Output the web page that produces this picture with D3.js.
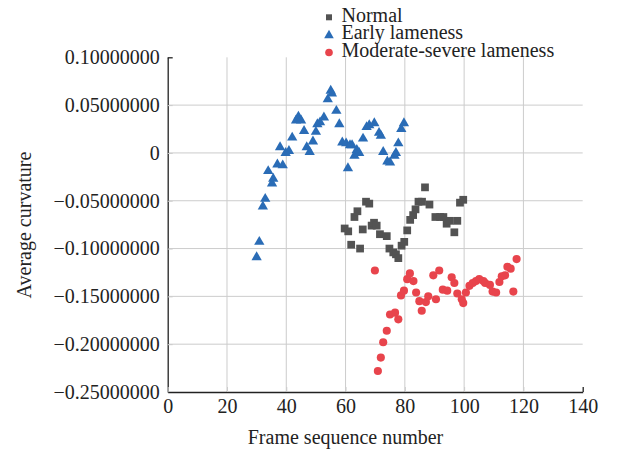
<!DOCTYPE html>
<html lang="en">
<head>
    <meta charset="UTF-8">
    <title>average curvature</title>
    <script src="https://cdn.jsdelivr.net/npm/d3@7"></script>
    <style>
        body{
            margin: 0;
            background: #fff;
        }
        text{
            font-family: "Times New Roman", "Liberation Serif", serif;
            fill: #222;
        }
    </style>
</head>
<body>
<svg width="618" height="450" id="chart"></svg>

<script>
    // frame sequence number / average curvature
    let normalX = [59.7, 60.9, 61.9, 63.0, 64.0, 64.9, 65.8, 66.9, 68.0, 68.8, 69.6, 70.5, 71.6, 73.9,
        74.8, 76.1, 77.0, 77.8, 78.9, 79.8, 80.8, 81.8, 82.8, 83.6, 84.6, 85.8, 86.8, 88.3, 90.3,
        91.9, 93.0, 94.1, 95.2, 96.7, 97.7, 98.6, 99.7]
    let normalY = [-0.079, -0.082, -0.096, -0.067, -0.061, -0.100, -0.080, -0.051, -0.053, -0.076,
        -0.073, -0.076, -0.085, -0.087, -0.100, -0.104, -0.106, -0.110, -0.097, -0.093, -0.081,
        -0.070, -0.065, -0.059, -0.051, -0.051, -0.036, -0.054, -0.067, -0.067, -0.067, -0.074,
        -0.071, -0.083, -0.071, -0.052, -0.049]

    let earlyX = [30.0, 30.9, 32.1, 32.9, 33.9, 35.2, 35.6, 37.0, 38.8, 37.9, 39.8, 40.9, 42.0, 43.3,
        44.1, 45.0, 46.0, 46.9, 47.9, 49.0, 50.0, 50.5, 51.4, 52.7, 54.0, 55.0, 55.4, 56.9, 57.9,
        58.9, 60.2, 60.8, 61.5, 62.2, 63.0, 63.8, 64.6, 65.9, 67.1, 68.0, 69.7, 71.3, 71.9, 72.7,
        74.1, 75.0, 76.5, 77.0, 77.8, 78.8, 79.7]
    let earlyY = [-0.109, -0.093, -0.056, -0.048, -0.019, -0.032, -0.027, -0.012, -0.013, 0.006,
        0.000, 0.002, 0.016, 0.034, 0.038, 0.034, 0.023, 0.006, 0.001, 0.012, 0.022, 0.030, 0.032,
        0.037, 0.056, 0.065, 0.062, 0.044, 0.030, 0.011, 0.010, -0.016, 0.008, 0.008, -0.003,
        0.003, 0.000, 0.015, 0.027, 0.029, 0.031, 0.021, 0.018, 0.001, -0.009, -0.010, -0.003,
        0.000, 0.010, 0.025, 0.031]

    let severeX = [69.9, 70.9, 71.9, 72.7, 73.9, 75.0, 76.7, 77.8, 78.7, 79.7, 80.8, 81.7, 82.9,
        83.8, 84.9, 85.7, 87.1, 87.9, 89.6, 90.5, 91.6, 92.8, 94.3, 95.8, 96.7, 97.7, 99.2, 99.7,
        100.6, 101.8, 102.9, 104.0, 105.1, 106.5, 107.1, 108.7, 109.6, 110.8, 111.9, 112.7, 113.8,
        114.6, 115.7, 116.6, 117.7]
    let severeY = [-0.123, -0.228, -0.214, -0.198, -0.186, -0.169, -0.167, -0.174, -0.149, -0.144,
        -0.132, -0.126, -0.134, -0.146, -0.155, -0.165, -0.156, -0.150, -0.128, -0.153, -0.123,
        -0.143, -0.144, -0.130, -0.136, -0.147, -0.153, -0.157, -0.146, -0.139, -0.136, -0.134,
        -0.132, -0.134, -0.136, -0.138, -0.145, -0.146, -0.135, -0.129, -0.128, -0.119, -0.121,
        -0.145, -0.111]

    let xTicks = [0, 20, 40, 60, 80, 100, 120, 140]
    let yTicks = [0.1, 0.05, 0, -0.05, -0.1, -0.15, -0.2, -0.25]
    let seriesNames = ["Normal", "Early lameness", "Moderate-severe lameness"]
    let seriesColors = ["#535353", "#2a6cb6", "#e8444c"]

    let svg = d3.select("#chart")
    let plotLeft = 167.7, plotRight = 582.7, plotTop = 57.3, plotBottom = 392

    let x = d3.scaleLinear().domain([0, 140]).range([plotLeft, plotRight])
    let y = d3.scaleLinear().domain([-0.25, 0.1]).range([plotBottom, plotTop])

    // grid
    svg.append("g")
        .selectAll("line")
        .data(xTicks.slice(1, -1))
        .join("line")
        .attr("x1", d => x(d)).attr("x2", d => x(d))
        .attr("y1", plotTop).attr("y2", plotBottom)
        .attr("stroke", "#cccccc")
    svg.append("g")
        .selectAll("line")
        .data(yTicks.slice(1, -1))
        .join("line")
        .attr("x1", plotLeft).attr("x2", plotRight)
        .attr("y1", d => y(d)).attr("y2", d => y(d))
        .attr("stroke", "#cccccc")

    // axes
    let fmtY = d => d === 0 ? "0" : d3.format(".8f")(d)
    let yAxis = svg.append("g")
        .attr("transform", `translate(${plotLeft},0)`)
        .call(d3.axisLeft(y).tickValues(yTicks).tickFormat(fmtY).tickSizeInner(-5).tickSizeOuter(0).tickPadding(8))
    let xAxis = svg.append("g")
        .attr("transform", `translate(0,${plotBottom})`)
        .call(d3.axisBottom(x).tickValues(xTicks).tickFormat(d3.format("d")).tickSizeInner(-5).tickSizeOuter(0).tickPadding(7))

    ;[yAxis, xAxis].forEach(ax => {
        ax.select(".domain").attr("stroke", "#222").attr("stroke-width", 1.3)
        ax.selectAll(".tick text").attr("font-size", 20).attr("fill", "#222")
        ax.selectAll(".tick line").attr("stroke", "#cccccc")
    })
    yAxis.selectAll(".tick line").filter(d => d === 0.1).attr("stroke", "#222").attr("stroke-width", 1.3)
    xAxis.selectAll(".tick line").filter(d => d === 140).attr("stroke", "#222").attr("stroke-width", 1.3)

    // axis titles
    svg.append("text")
        .attr("x", 345.5).attr("y", 444)
        .attr("text-anchor", "middle")
        .attr("font-size", 20)
        .text("Frame sequence number")
    svg.append("text")
        .attr("transform", "translate(31,225) rotate(-90)")
        .attr("text-anchor", "middle")
        .attr("font-size", 20)
        .text("Average curvature")

    // points
    let shapes = [d3.symbolSquare, d3.symbolTriangle, d3.symbolCircle]
    let sizes = [60, 46, 52]
    let series = [
        d3.zip(earlyX, earlyY),
        d3.zip(normalX, normalY),
        d3.zip(severeX, severeY)
    ]
    let order = [1, 0, 2]
    order.forEach((k, i) => {
        svg.append("g")
            .selectAll("path")
            .data(series[i])
            .join("path")
            .attr("transform", d => `translate(${x(d[0])},${y(d[1])})`)
            .attr("d", d3.symbol(shapes[k], sizes[k]))
            .attr("fill", seriesColors[k])
    })

    // legend
    let legend = svg.append("g")
    let legendSizes = [36, 40, 46]
    seriesNames.forEach((name, i) => {
        let row = legend.append("g").attr("transform", `translate(329,${17.3 + i * 17.6})`)
        row.append("path")
            .attr("d", d3.symbol(shapes[i], legendSizes[i]))
            .attr("transform", i === 1 ? "translate(0,0.5)" : null)
            .attr("fill", seriesColors[i])
        row.append("text")
            .attr("x", 12.5).attr("y", 4.4)
            .attr("font-size", 20)
            .text(name)
    })
</script>
</body>
</html>
